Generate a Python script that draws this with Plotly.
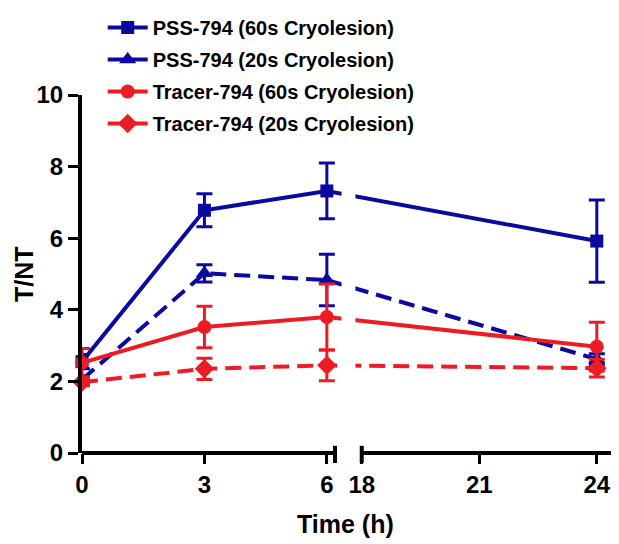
import plotly.graph_objects as go

# ---------------- data ----------------
time_h = [0, 3, 6, 24]
series_names = ["PSS-794 (60s Cryolesion)", "PSS-794 (20s Cryolesion)",
                "Tracer-794 (60s Cryolesion)", "Tracer-794 (20s Cryolesion)"]
pss60 = [2.55, 6.78, 7.32, 5.92]
pss60_err = [0.20, 0.46, 0.78, 1.15]
pss20 = [2.05, 5.02, 4.83, 2.62]
pss20_err = [0.10, 0.24, 0.72, 0.15]
tr60 = [2.52, 3.52, 3.80, 2.97]
tr60_err = [0.40, 0.58, 0.92, 0.68]
tr20 = [1.98, 2.35, 2.45, 2.37]
tr20_err = [0.10, 0.30, 0.43, 0.25]

x_ticks = [0, 3, 6, 18, 21, 24]
y_ticks = [0, 2, 4, 6, 8, 10]
x_title = "Time (h)"
y_title = "T/NT"

# ---------------- broken-axis transform ----------------
BREAK_LO, BREAK_HI = 6, 18
GAP = 0.855        # visual gap between the two segments (axis units)
K_RIGHT = 0.96     # relative scale of the right segment
X_MAX = 13.11


def tx(t):
    if t <= BREAK_LO:
        return t
    return BREAK_LO + GAP + (t - BREAK_HI) * K_RIGHT


BLUE = "rgb(10,10,160)"
RED = "rgb(237,28,36)"

styles = [
    dict(color=BLUE, dash="solid", symbol="square", size=13),
    dict(color=BLUE, dash="16px,8px", symbol="triangle-up", size=15),
    dict(color=RED, dash="solid", symbol="circle", size=14),
    dict(color=RED, dash="16px,8px", symbol="diamond", size=15),
]
values = [pss60, pss20, tr60, tr20]
errors = [pss60_err, pss20_err, tr60_err, tr20_err]

fig = go.Figure()
xs = [tx(t) for t in time_h]
for i, (name, v, e, st) in enumerate(zip(series_names, values, errors, styles)):
    fig.add_trace(go.Scatter(
        x=xs, y=v, name=name, mode="lines+markers",
        line=dict(color=st["color"], width=4, dash=st["dash"]),
        marker=dict(symbol=st["symbol"], size=st["size"], color=st["color"]),
        error_y=dict(type="data", array=e, visible=True, color=st["color"],
                     thickness=3, width=8),
        cliponaxis=False, legendgroup=f"g{i}",
    ))

font_family = "Arial, 'Liberation Sans', sans-serif"

shapes = [
    # mask the data lines across the axis break
    dict(type="rect", xref="x", yref="paper", x0=6.36, x1=6.70, y0=0.02, y1=0.99,
         fillcolor="white", line=dict(width=0), layer="above"),
    # x-axis line, left segment
    dict(type="line", xref="x", yref="paper", x0=0, x1=6.2, y0=0, y1=0,
         line=dict(color="black", width=4)),
    # x-axis line, right segment
    dict(type="line", xref="x", yref="paper", x0=tx(18), x1=X_MAX, y0=0, y1=0,
         line=dict(color="black", width=4)),
    # break marks
    dict(type="line", xref="x", yref="paper", x0=6.2, x1=6.2, y0=-0.028, y1=0.02,
         line=dict(color="black", width=4)),
    dict(type="line", xref="x", yref="paper", x0=tx(18), x1=tx(18), y0=-0.028, y1=0.02,
         line=dict(color="black", width=4)),
]

annotations = [
    dict(text=y_title, xref="paper", yref="paper", x=-0.1383, y=0.5,
         xanchor="left", yanchor="middle", textangle=-90, showarrow=False,
         font=dict(size=25, weight="bold")),
    dict(text=x_title, xref="paper", yref="paper", x=0.492, y=-0.198,
         xanchor="center", yanchor="middle", showarrow=False,
         font=dict(size=25, weight="bold")),
]

# the page body has an 8px margin, so the figure is 8px smaller than the window
fig.update_layout(
    width=611, height=536,
    margin=dict(l=74, r=2, t=87, b=91, autoexpand=False),
    paper_bgcolor="white", plot_bgcolor="white",
    font=dict(family=font_family, color="black"),
    showlegend=True,
    legend=dict(xref="container", yref="container", x=0.155, y=1.0,
                xanchor="left", yanchor="top",
                font=dict(size=20, weight="bold", family=font_family),
                itemwidth=40, tracegroupgap=3, bgcolor="rgba(0,0,0,0)"),
    shapes=shapes,
    annotations=annotations,
    xaxis=dict(range=[0, X_MAX], showline=False, showgrid=False, zeroline=False,
               automargin=False,
               tickmode="array", tickvals=[tx(t) for t in x_ticks],
               ticktext=[str(t) for t in x_ticks],
               ticks="outside", ticklen=10, tickwidth=3, tickcolor="black",
               tickfont=dict(size=24, weight="bold")),
    yaxis=dict(range=[0, 10], showline=True, linewidth=4, linecolor="black",
               showgrid=False, zeroline=False, automargin=False,
               tickmode="array", tickvals=y_ticks, ticktext=[str(t) for t in y_ticks],
               ticks="outside", ticklen=10, tickwidth=3, tickcolor="black",
               tickfont=dict(size=24, weight="bold")),
)

fig.write_html("out.html")
